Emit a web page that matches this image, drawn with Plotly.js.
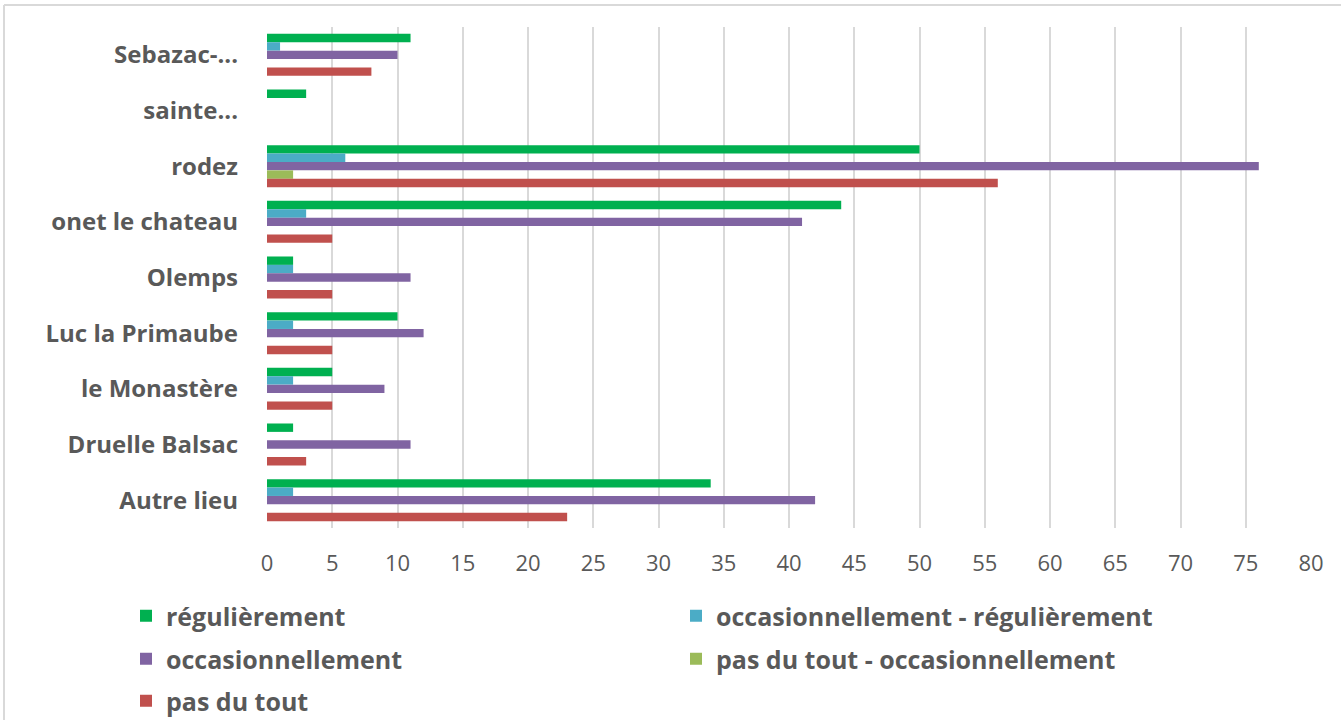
<!DOCTYPE html>
<html>
<head>
<meta charset="utf-8">
<script src="https://cdn.plot.ly/plotly-3.0.1.min.js"></script>
<style>
  html, body { margin: 0; padding: 0; background: #ffffff; }
  #chart { width: 1341px; height: 720px; }
</style>
</head>
<body>
<div id="chart"></div>
<script>
// Categories, top to bottom as shown
const categories = ["Sebazac-...", "sainte...", "rodez", "onet le chateau", "Olemps",
                    "Luc la Primaube", "le Monastère", "Druelle Balsac", "Autre lieu"];

const seriesNames = ["régulièrement", "occasionnellement - régulièrement", "occasionnellement",
                     "pas du tout - occasionnellement", "pas du tout"];

const regulierement        = [11, 3, 50, 44, 2, 10, 5, 2, 34];
const occasRegulierement   = [1, null, 6, 3, 2, 2, 2, null, 2];
const occasionnellement    = [10, null, 76, 41, 11, 12, 9, 11, 42];
const pasDuToutOccas       = [null, null, 2, null, null, null, null, null, null];
const pasDuTout            = [8, null, 56, 5, 5, 5, 5, 3, 23];

const xTicks = [0, 5, 10, 15, 20, 25, 30, 35, 40, 45, 50, 55, 60, 65, 70, 75, 80];

const colors = ["#00B050", "#4BACC6", "#8064A2", "#9BBB59", "#C0504D"];
const values = [regulierement, occasRegulierement, occasionnellement, pasDuToutOccas, pasDuTout];
const legendIds = ["legend", "legend", "legend2", "legend2", "legend3"];

const traces = values.map((v, i) => ({
  type: "bar",
  orientation: "h",
  name: seriesNames[i],
  y: categories,
  x: v,
  marker: { color: colors[i], line: { width: 0 } },
  legend: legendIds[i],
  hoverinfo: "x+y+name"
}));

// layout geometry (pixels)
const W = 1341, H = 720;
const mL = 267, mR = 30, mT = 27, mB = 192;
const plotW = W - mL - mR, plotH = H - mT - mB;
const px2x = p => (p - mL) / plotW;
const py2y = p => (H - mB - p) / plotH;

const FONT = "'Open Sans', Lato, sans-serif";
const legFont = { family: FONT, size: 25, color: "#595959", weight: "bold" };
const legBase = {
  orientation: "h",
  xanchor: "left",
  yanchor: "middle",
  entrywidth: 505,
  entrywidthmode: "pixels",
  font: legFont,
  bgcolor: "rgba(0,0,0,0)",
  borderwidth: 0,
  itemclick: false,
  itemdoubleclick: false
};

const layout = {
  width: W,
  height: H,
  paper_bgcolor: "#ffffff",
  plot_bgcolor: "#ffffff",
  margin: { l: mL, r: mR, t: mT, b: mB, pad: 0, autoexpand: false },
  barmode: "group",
  bargap: 0.245,
  bargroupgap: 0,
  showlegend: true,
  xaxis: {
    range: [0, 80],
    tickvals: xTicks,
    ticktext: xTicks.map(String),
    showgrid: true,
    gridcolor: "#d9d9d9",
    gridwidth: 2,
    zeroline: false,
    showline: false,
    ticks: "",
    ticklabelstandoff: 20,
    tickfont: { family: FONT, size: 22, color: "#595959" },
    automargin: false,
    fixedrange: true
  },
  yaxis: {
    type: "category",
    autorange: "reversed",
    showgrid: false,
    zeroline: false,
    showline: false,
    ticks: "",
    ticklabelstandoff: 28,
    tickfont: { family: FONT, size: 24, color: "#595959", weight: "bold" },
    automargin: false,
    fixedrange: true
  },
  legend: Object.assign({}, legBase, { x: px2x(126), y: py2y(616) }),
  legend2: Object.assign({}, legBase, { x: px2x(126), y: py2y(659) }),
  legend3: Object.assign({}, legBase, { x: px2x(126), y: py2y(701) }),
  shapes: [
    { type: "line", xref: "paper", yref: "paper", x0: px2x(4), x1: px2x(W + 5), y0: py2y(5), y1: py2y(5),
      line: { color: "#d9d9d9", width: 2 } },
    { type: "line", xref: "paper", yref: "paper", x0: px2x(4), x1: px2x(4), y0: py2y(5), y1: py2y(H + 5),
      line: { color: "#d9d9d9", width: 2 } }
  ]
};

Plotly.newPlot("chart", traces, layout, { staticPlot: true, displayModeBar: false });
</script>
</body>
</html>
